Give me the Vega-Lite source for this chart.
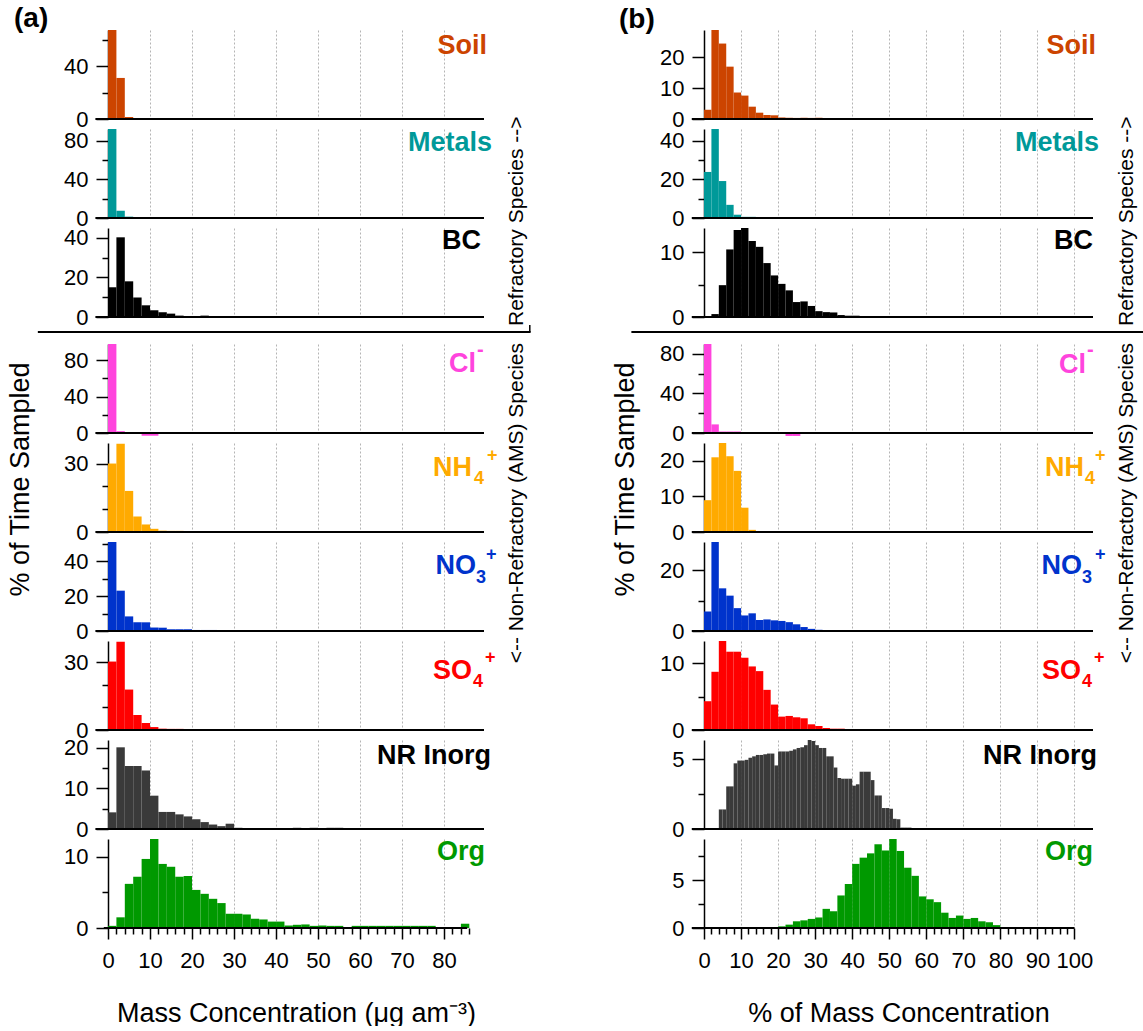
{
"$schema":"https://vega.github.io/schema/vega-lite/v6.json",
"padding":{"left":6,"top":4,"right":0,"bottom":0},
"background":"white",
"config":{
 "view":{"stroke":null},
 "font":"Liberation Sans",
 "axis":{"domainColor":"#000","domainWidth":1.5,"tickColor":"#000","tickWidth":1.5,"labelColor":"#000","labelFontSize":22,"labelFont":"Liberation Sans","labelOverlap":false,"labelFlush":false,"titleFont":"Liberation Sans","titleColor":"#000","titleFontWeight":"normal","titleFontSize":27,"grid":false},
 "axisX":{"gridDash":[2,2],"gridColor":"#b4b4b4","gridWidth":1},
 "axisY":{"labelPadding":8},
 "title":{"font":"Liberation Sans","color":"#000"},
 "text":{"font":"Liberation Sans"}
},
"datasets":{
 "aSoil":[{"x0":0,"x1":2,"v":67.2},{"x0":2,"x1":4,"v":31},{"x0":4,"x1":6,"v":1.5}],
 "aMetals":[{"x0":0,"x1":2,"v":92},{"x0":2,"x1":4,"v":7.5},{"x0":4,"x1":6,"v":1.4}],
 "aBC":[{"x0":0,"x1":2,"v":15},{"x0":2,"x1":4,"v":40.2},{"x0":4,"x1":6,"v":18},{"x0":6,"x1":8,"v":9.9},{"x0":8,"x1":10,"v":5.9},{"x0":10,"x1":12,"v":3.4},{"x0":12,"x1":14,"v":2.4},{"x0":14,"x1":16,"v":1.7},{"x0":16,"x1":18,"v":0.7},{"x0":18,"x1":20,"v":0.5},{"x0":20,"x1":22,"v":0.5},{"x0":22,"x1":24,"v":0.7},{"x0":24,"x1":26,"v":0.4}],
 "aCl":[{"x0":0,"x1":2,"v":97.8},{"x0":2,"x1":4,"v":2.0},{"x0":8,"x1":10,"v":-3},{"x0":10,"x1":12,"v":-3}],
 "aNH4":[{"x0":0,"x1":2,"v":30},{"x0":2,"x1":4,"v":38.7},{"x0":4,"x1":6,"v":18},{"x0":6,"x1":8,"v":6.8},{"x0":8,"x1":10,"v":3.3},{"x0":10,"x1":12,"v":1.4},{"x0":12,"x1":14,"v":0.6},{"x0":14,"x1":16,"v":0.5},{"x0":16,"x1":18,"v":0.5}],
 "aNO3":[{"x0":0,"x1":2,"v":51.2},{"x0":2,"x1":4,"v":23.2},{"x0":4,"x1":6,"v":8.4},{"x0":6,"x1":8,"v":5.1},{"x0":8,"x1":10,"v":5.0},{"x0":10,"x1":12,"v":2.0},{"x0":12,"x1":14,"v":1.9},{"x0":14,"x1":16,"v":1.0},{"x0":16,"x1":18,"v":1.0},{"x0":18,"x1":20,"v":1.0},{"x0":20,"x1":22,"v":0.6},{"x0":22,"x1":24,"v":0.6},{"x0":24,"x1":26,"v":0.6},{"x0":26,"x1":28,"v":0.4},{"x0":28,"x1":30,"v":0.4}],
 "aSO4":[{"x0":0,"x1":2,"v":30.3},{"x0":2,"x1":4,"v":39.1},{"x0":4,"x1":6,"v":17.9},{"x0":6,"x1":8,"v":6.6},{"x0":8,"x1":10,"v":3.1},{"x0":10,"x1":12,"v":1.3},{"x0":12,"x1":14,"v":0.6},{"x0":14,"x1":16,"v":0.5},{"x0":16,"x1":18,"v":0.5}],
 "aNR":[{"x0":0,"x1":2,"v":4.1},{"x0":2,"x1":4,"v":20.1},{"x0":4,"x1":6,"v":15.5},{"x0":6,"x1":8,"v":15.5},{"x0":8,"x1":10,"v":14.4},{"x0":10,"x1":12,"v":8.2},{"x0":12,"x1":14,"v":4.2},{"x0":14,"x1":16,"v":4.2},{"x0":16,"x1":18,"v":3.6},{"x0":18,"x1":20,"v":3.1},{"x0":20,"x1":22,"v":2.4},{"x0":22,"x1":24,"v":1.7},{"x0":24,"x1":26,"v":1.1},{"x0":26,"x1":28,"v":0.7},{"x0":28,"x1":30,"v":1.3},{"x0":30,"x1":32,"v":0.3},{"x0":32,"x1":34,"v":0.25},{"x0":34,"x1":36,"v":0.25},{"x0":36,"x1":38,"v":0.25},{"x0":38,"x1":40,"v":0.25},{"x0":40,"x1":42,"v":0.25},{"x0":42,"x1":44,"v":0.25},{"x0":44,"x1":46,"v":0.3},{"x0":46,"x1":48,"v":0.15},{"x0":48,"x1":50,"v":0.3},{"x0":50,"x1":52,"v":0.15},{"x0":52,"x1":54,"v":0.3},{"x0":54,"x1":56,"v":0.3}],
 "aOrg":[{"x0":0,"x1":2,"v":0.3},{"x0":2,"x1":4,"v":1.5},{"x0":4,"x1":6,"v":6.2},{"x0":6,"x1":8,"v":7.2},{"x0":8,"x1":10,"v":9.7},{"x0":10,"x1":12,"v":12.5},{"x0":12,"x1":14,"v":9.0},{"x0":14,"x1":16,"v":8.6},{"x0":16,"x1":18,"v":7.2},{"x0":18,"x1":20,"v":7.3},{"x0":20,"x1":22,"v":5.35},{"x0":22,"x1":24,"v":4.8},{"x0":24,"x1":26,"v":4.1},{"x0":26,"x1":28,"v":3.5},{"x0":28,"x1":30,"v":2.0},{"x0":30,"x1":32,"v":2.0},{"x0":32,"x1":34,"v":1.9},{"x0":34,"x1":36,"v":1.3},{"x0":36,"x1":38,"v":1.2},{"x0":38,"x1":40,"v":0.9},{"x0":40,"x1":42,"v":0.9},{"x0":42,"x1":44,"v":0.35},{"x0":44,"x1":46,"v":0.45},{"x0":46,"x1":48,"v":0.5},{"x0":48,"x1":50,"v":0.3},{"x0":50,"x1":52,"v":0.35},{"x0":52,"x1":54,"v":0.3},{"x0":54,"x1":56,"v":0.3},{"x0":58,"x1":60,"v":0.3},{"x0":60,"x1":62,"v":0.3},{"x0":62,"x1":64,"v":0.3},{"x0":64,"x1":66,"v":0.3},{"x0":66,"x1":68,"v":0.3},{"x0":68,"x1":70,"v":0.3},{"x0":70,"x1":72,"v":0.3},{"x0":72,"x1":74,"v":0.3},{"x0":74,"x1":76,"v":0.3},{"x0":76,"x1":78,"v":0.3},{"x0":84,"x1":86,"v":0.6}],
 "bSoil":[{"x0":0,"x1":2,"v":3.0},{"x0":2,"x1":4,"v":28.9},{"x0":4,"x1":6,"v":24.5},{"x0":6,"x1":8,"v":17},{"x0":8,"x1":10,"v":8.6},{"x0":10,"x1":12,"v":7.6},{"x0":12,"x1":14,"v":4.0},{"x0":14,"x1":16,"v":2.05},{"x0":16,"x1":18,"v":1.3},{"x0":18,"x1":20,"v":1.2},{"x0":20,"x1":22,"v":0.5},{"x0":22,"x1":24,"v":0.4},{"x0":24,"x1":26,"v":0.35},{"x0":26,"x1":28,"v":0.4},{"x0":28,"x1":30,"v":0.35},{"x0":30,"x1":32,"v":0.4}],
 "bMetals":[{"x0":0,"x1":2,"v":23.8},{"x0":2,"x1":4,"v":46},{"x0":4,"x1":6,"v":19.1},{"x0":6,"x1":8,"v":6.8},{"x0":8,"x1":10,"v":1.7},{"x0":10,"x1":12,"v":0.6},{"x0":12,"x1":14,"v":0.6}],
 "bBC":[{"x0":2,"x1":4,"v":0.45},{"x0":4,"x1":6,"v":4.9},{"x0":6,"x1":8,"v":10.4},{"x0":8,"x1":10,"v":13.4},{"x0":10,"x1":12,"v":13.7},{"x0":12,"x1":14,"v":11.7},{"x0":14,"x1":16,"v":10.8},{"x0":16,"x1":18,"v":8.3},{"x0":18,"x1":20,"v":6.4},{"x0":20,"x1":22,"v":5.1},{"x0":22,"x1":24,"v":4.1},{"x0":24,"x1":26,"v":2.3},{"x0":26,"x1":28,"v":2.4},{"x0":28,"x1":30,"v":1.7},{"x0":30,"x1":32,"v":0.9},{"x0":32,"x1":34,"v":0.75},{"x0":34,"x1":36,"v":0.7},{"x0":36,"x1":38,"v":0.3},{"x0":38,"x1":40,"v":0.2},{"x0":40,"x1":42,"v":0.2}],
 "bCl":[{"x0":0,"x1":2,"v":90},{"x0":2,"x1":4,"v":8.7},{"x0":4,"x1":6,"v":1.5},{"x0":6,"x1":8,"v":1.5},{"x0":8,"x1":10,"v":1.5},{"x0":22,"x1":24,"v":-3},{"x0":24,"x1":26,"v":-3}],
 "bNH4":[{"x0":0,"x1":2,"v":8.9},{"x0":2,"x1":4,"v":20.9},{"x0":4,"x1":6,"v":24.9},{"x0":6,"x1":8,"v":21.2},{"x0":8,"x1":10,"v":17.1},{"x0":10,"x1":12,"v":6.8},{"x0":12,"x1":14,"v":0.6}],
 "bNO3":[{"x0":0,"x1":2,"v":6.4},{"x0":2,"x1":4,"v":29.2},{"x0":4,"x1":6,"v":14},{"x0":6,"x1":8,"v":11.6},{"x0":8,"x1":10,"v":7.5},{"x0":10,"x1":12,"v":5.1},{"x0":12,"x1":14,"v":5.8},{"x0":14,"x1":16,"v":3.6},{"x0":16,"x1":18,"v":3.8},{"x0":18,"x1":20,"v":3.5},{"x0":20,"x1":22,"v":3.3},{"x0":22,"x1":24,"v":2.9},{"x0":24,"x1":26,"v":2.2},{"x0":26,"x1":28,"v":1.3},{"x0":28,"x1":30,"v":0.7},{"x0":30,"x1":32,"v":0.4}],
 "bSO4":[{"x0":0,"x1":2,"v":4.3},{"x0":2,"x1":4,"v":8.7},{"x0":4,"x1":6,"v":13.3},{"x0":6,"x1":8,"v":11.7},{"x0":8,"x1":10,"v":11.7},{"x0":10,"x1":12,"v":10.8},{"x0":12,"x1":14,"v":9.5},{"x0":14,"x1":16,"v":8.8},{"x0":16,"x1":18,"v":6.0},{"x0":18,"x1":20,"v":3.8},{"x0":20,"x1":22,"v":2.0},{"x0":22,"x1":24,"v":2.1},{"x0":24,"x1":26,"v":1.9},{"x0":26,"x1":28,"v":1.75},{"x0":28,"x1":30,"v":0.85},{"x0":30,"x1":32,"v":0.6},{"x0":32,"x1":34,"v":0.3},{"x0":34,"x1":36,"v":0.2},{"x0":36,"x1":38,"v":0.2}],
 "bNR":[{"x0":4,"x1":5,"v":1.4},{"x0":5,"x1":6,"v":1.4},{"x0":6,"x1":7,"v":3.05},{"x0":7,"x1":8,"v":3.05},{"x0":8,"x1":9,"v":4.7},{"x0":9,"x1":10,"v":4.9},{"x0":10,"x1":11,"v":4.9},{"x0":11,"x1":12,"v":4.95},{"x0":12,"x1":13,"v":5.1},{"x0":13,"x1":14,"v":5.2},{"x0":14,"x1":15,"v":5.3},{"x0":15,"x1":16,"v":5.3},{"x0":16,"x1":17,"v":5.35},{"x0":17,"x1":18,"v":5.4},{"x0":18,"x1":19,"v":5.4},{"x0":19,"x1":20,"v":4.55},{"x0":20,"x1":21,"v":5.55},{"x0":21,"x1":22,"v":5.55},{"x0":22,"x1":23,"v":5.55},{"x0":23,"x1":24,"v":5.6},{"x0":24,"x1":25,"v":5.7},{"x0":25,"x1":26,"v":5.8},{"x0":26,"x1":27,"v":5.85},{"x0":27,"x1":28,"v":6.0},{"x0":28,"x1":29,"v":6.37},{"x0":29,"x1":30,"v":6.3},{"x0":30,"x1":31,"v":6.0},{"x0":31,"x1":32,"v":5.8},{"x0":32,"x1":33,"v":5.8},{"x0":33,"x1":34,"v":5.2},{"x0":34,"x1":35,"v":5.2},{"x0":35,"x1":36,"v":4.4},{"x0":36,"x1":37,"v":3.65},{"x0":37,"x1":38,"v":3.6},{"x0":38,"x1":39,"v":3.6},{"x0":39,"x1":40,"v":3.6},{"x0":40,"x1":41,"v":3.1},{"x0":41,"x1":42,"v":3.2},{"x0":42,"x1":43,"v":4.1},{"x0":43,"x1":44,"v":4.1},{"x0":44,"x1":45,"v":4.1},{"x0":45,"x1":46,"v":3.5},{"x0":46,"x1":47,"v":2.4},{"x0":47,"x1":48,"v":2.4},{"x0":48,"x1":49,"v":1.5},{"x0":49,"x1":50,"v":1.5},{"x0":50,"x1":51,"v":1.45},{"x0":51,"x1":52,"v":0.73},{"x0":52,"x1":53,"v":0.7},{"x0":53,"x1":54,"v":0.1},{"x0":54,"x1":55,"v":0.1},{"x0":55,"x1":56,"v":0.1}],
 "bOrg":[{"x0":20,"x1":22,"v":0.17},{"x0":22,"x1":24,"v":0.35},{"x0":24,"x1":26,"v":0.7},{"x0":26,"x1":28,"v":0.8},{"x0":28,"x1":30,"v":0.95},{"x0":30,"x1":32,"v":1.1},{"x0":32,"x1":34,"v":2.0},{"x0":34,"x1":36,"v":1.75},{"x0":36,"x1":38,"v":3.4},{"x0":38,"x1":40,"v":4.6},{"x0":40,"x1":42,"v":6.7},{"x0":42,"x1":44,"v":7.35},{"x0":44,"x1":46,"v":7.8},{"x0":46,"x1":48,"v":8.75},{"x0":48,"x1":50,"v":8.1},{"x0":50,"x1":52,"v":9.3},{"x0":52,"x1":54,"v":8.05},{"x0":54,"x1":56,"v":6.3},{"x0":56,"x1":58,"v":5.45},{"x0":58,"x1":60,"v":3.3},{"x0":60,"x1":62,"v":3.0},{"x0":62,"x1":64,"v":2.7},{"x0":64,"x1":66,"v":1.6},{"x0":66,"x1":68,"v":1.05},{"x0":68,"x1":70,"v":1.3},{"x0":70,"x1":72,"v":0.95},{"x0":72,"x1":74,"v":1.05},{"x0":74,"x1":76,"v":0.7},{"x0":76,"x1":78,"v":0.6},{"x0":78,"x1":80,"v":0.3}]
},
"columns":2,
"spacing":{"row":10,"column":220},
"bounds":"flush",
"concat":[
{"width":376,"height":89,"resolve":{"axis":{"x":"independent","y":"independent"}},
 "title":{"text":"(a)","anchor":"start","frame":"group","fontSize":28,"fontWeight":"bold","dx":-94,"offset":-4},
 "layer":[
  {"data":{"name":"aSoil"},"mark":{"type":"bar","color":"#CC4400"},
   "encoding":{"x":{"field":"x0","type":"quantitative","scale":{"domain":[0,89.5],"nice":false,"zero":false},"axis":{"values":[10,20,30,40,50,60,70,80],"grid":true,"ticks":false,"labels":false,"domain":false,"title":null}},"x2":{"field":"x1"},
   "y":{"field":"v","type":"quantitative","scale":{"domain":[0,67.2],"nice":false},"axis":{"values":[0,20,40,60],"labelExpr":"datum.value % 40 === 0 ? datum.label : ''","tickSize":{"condition":{"test":"datum.value % 40 === 0","value":12},"value":6},"ticks":true,"domain":true,"labelOverlap":false,"title":null}},"y2":{"datum":0}}},
  {"data":{"values":[{}]},"mark":{"type":"rule","color":"#000","strokeWidth":2},"encoding":{"x":{"datum":-3,"type":"quantitative","axis":null},"x2":{"datum":89.5},"y":{"datum":0,"type":"quantitative","axis":null}}},
  {"data":{"values":[{"t":"Soil"}]},"mark":{"type":"text","align":"right","baseline":"alphabetic","fontSize":27,"fontWeight":"bold","color":"#CC4400","dx":3,"dy":24},"encoding":{"x":{"datum":89.5,"type":"quantitative","axis":null},"y":{"datum":67.2,"type":"quantitative","axis":null},"text":{"field":"t"}}}
 ]},
{"width":389,"height":89,"resolve":{"axis":{"x":"independent","y":"independent"}},
 "title":{"text":"(b)","anchor":"start","frame":"group","fontSize":28,"fontWeight":"bold","dx":-85,"offset":-4},
 "layer":[
  {"data":{"name":"bSoil"},"mark":{"type":"bar","color":"#CC4400"},
   "encoding":{"x":{"field":"x0","type":"quantitative","scale":{"domain":[0,105],"nice":false,"zero":false},"axis":{"values":[10,20,30,40,50,60,70,80,90,100],"grid":true,"ticks":false,"labels":false,"domain":false,"title":null}},"x2":{"field":"x1"},
   "y":{"field":"v","type":"quantitative","scale":{"domain":[0,28.9],"nice":false},"axis":{"values":[0,10,20],"tickSize":12,"ticks":true,"domain":true,"labelOverlap":false,"title":null}},"y2":{"datum":0}}},
  {"data":{"values":[{}]},"mark":{"type":"rule","color":"#000","strokeWidth":2},"encoding":{"x":{"datum":-3.3,"type":"quantitative","axis":null},"x2":{"datum":105},"y":{"datum":0,"type":"quantitative","axis":null}}},
  {"data":{"values":[{"t":"Soil"}]},"mark":{"type":"text","align":"right","baseline":"alphabetic","fontSize":27,"fontWeight":"bold","color":"#CC4400","dx":3,"dy":24},"encoding":{"x":{"datum":105,"type":"quantitative","axis":null},"y":{"datum":28.9,"type":"quantitative","axis":null},"text":{"field":"t"}}}
 ]},
{"width":376,"height":89,"resolve":{"axis":{"x":"independent","y":"independent"}},
 "layer":[
  {"data":{"name":"aMetals"},"mark":{"type":"bar","color":"#009999"},
   "encoding":{"x":{"field":"x0","type":"quantitative","scale":{"domain":[0,89.5],"nice":false,"zero":false},"axis":{"values":[10,20,30,40,50,60,70,80],"grid":true,"ticks":false,"labels":false,"domain":false,"title":null}},"x2":{"field":"x1"},
   "y":{"field":"v","type":"quantitative","scale":{"domain":[0,92],"nice":false},"axis":{"values":[0,20,40,60,80],"labelExpr":"datum.value % 40 === 0 ? datum.label : ''","tickSize":{"condition":{"test":"datum.value % 40 === 0","value":12},"value":6},"ticks":true,"domain":true,"labelOverlap":false,"title":null}},"y2":{"datum":0}}},
  {"data":{"values":[{}]},"mark":{"type":"rule","color":"#000","strokeWidth":2},"encoding":{"x":{"datum":-3,"type":"quantitative","axis":null},"x2":{"datum":89.5},"y":{"datum":0,"type":"quantitative","axis":null}}},
  {"data":{"values":[{"t":"Metals"}]},"mark":{"type":"text","align":"right","baseline":"alphabetic","fontSize":27,"fontWeight":"bold","color":"#009999","dx":8,"dy":22},"encoding":{"x":{"datum":89.5,"type":"quantitative","axis":null},"y":{"datum":92,"type":"quantitative","axis":null},"text":{"field":"t"}}}
 ]},
{"width":389,"height":89,"resolve":{"axis":{"x":"independent","y":"independent"}},
 "layer":[
  {"data":{"name":"bMetals"},"mark":{"type":"bar","color":"#009999"},
   "encoding":{"x":{"field":"x0","type":"quantitative","scale":{"domain":[0,105],"nice":false,"zero":false},"axis":{"values":[10,20,30,40,50,60,70,80,90,100],"grid":true,"ticks":false,"labels":false,"domain":false,"title":null}},"x2":{"field":"x1"},
   "y":{"field":"v","type":"quantitative","scale":{"domain":[0,46],"nice":false},"axis":{"values":[0,10,20,30,40],"labelExpr":"datum.value % 20 === 0 ? datum.label : ''","tickSize":{"condition":{"test":"datum.value % 20 === 0","value":12},"value":6},"ticks":true,"domain":true,"labelOverlap":false,"title":null}},"y2":{"datum":0}}},
  {"data":{"values":[{}]},"mark":{"type":"rule","color":"#000","strokeWidth":2},"encoding":{"x":{"datum":-3.3,"type":"quantitative","axis":null},"x2":{"datum":105},"y":{"datum":0,"type":"quantitative","axis":null}}},
  {"data":{"values":[{"t":"Metals"}]},"mark":{"type":"text","align":"right","baseline":"alphabetic","fontSize":27,"fontWeight":"bold","color":"#009999","dx":6,"dy":22},"encoding":{"x":{"datum":105,"type":"quantitative","axis":null},"y":{"datum":46,"type":"quantitative","axis":null},"text":{"field":"t"}}}
 ]},
{"width":376,"height":89,"resolve":{"axis":{"x":"independent","y":"independent"}},
 "layer":[
  {"data":{"name":"aBC"},"mark":{"type":"bar","color":"#000000"},
   "encoding":{"x":{"field":"x0","type":"quantitative","scale":{"domain":[0,89.5],"nice":false,"zero":false},"axis":{"values":[10,20,30,40,50,60,70,80],"grid":true,"ticks":false,"labels":false,"domain":false,"title":null}},"x2":{"field":"x1"},
   "y":{"field":"v","type":"quantitative","scale":{"domain":[0,44.9],"nice":false},"axis":{"values":[0,10,20,30,40],"labelExpr":"datum.value % 20 === 0 ? datum.label : ''","tickSize":{"condition":{"test":"datum.value % 20 === 0","value":12},"value":6},"ticks":true,"domain":true,"labelOverlap":false,"title":null}},"y2":{"datum":0}}},
  {"data":{"values":[{}]},"mark":{"type":"rule","color":"#000","strokeWidth":2},"encoding":{"x":{"datum":-3,"type":"quantitative","axis":null},"x2":{"datum":89.5},"y":{"datum":0,"type":"quantitative","axis":null}}},
  {"data":{"values":[{"t":"BC"}]},"mark":{"type":"text","align":"right","baseline":"alphabetic","fontSize":27,"fontWeight":"bold","color":"#000000","dx":-3,"dy":21},"encoding":{"x":{"datum":89.5,"type":"quantitative","axis":null},"y":{"datum":44.9,"type":"quantitative","axis":null},"text":{"field":"t"}}},
  {"data":{"values":[{"t":"Refractory Species -->"}]},"mark":{"type":"text","align":"left","baseline":"alphabetic","angle":270,"fontSize":21,"color":"#000","dx":-9},"encoding":{"x":{"datum":98.9,"type":"quantitative","axis":null},"y":{"datum":0,"type":"quantitative","axis":null},"text":{"field":"t"}}}
 ]},
{"width":389,"height":89,"resolve":{"axis":{"x":"independent","y":"independent"}},
 "layer":[
  {"data":{"name":"bBC"},"mark":{"type":"bar","color":"#000000"},
   "encoding":{"x":{"field":"x0","type":"quantitative","scale":{"domain":[0,105],"nice":false,"zero":false},"axis":{"values":[10,20,30,40,50,60,70,80,90,100],"grid":true,"ticks":false,"labels":false,"domain":false,"title":null}},"x2":{"field":"x1"},
   "y":{"field":"v","type":"quantitative","scale":{"domain":[0,13.7],"nice":false},"axis":{"values":[0,5,10],"labelExpr":"datum.value % 10 === 0 ? datum.label : ''","tickSize":{"condition":{"test":"datum.value % 10 === 0","value":12},"value":6},"ticks":true,"domain":true,"labelOverlap":false,"title":null}},"y2":{"datum":0}}},
  {"data":{"values":[{}]},"mark":{"type":"rule","color":"#000","strokeWidth":2},"encoding":{"x":{"datum":-3.3,"type":"quantitative","axis":null},"x2":{"datum":105},"y":{"datum":0,"type":"quantitative","axis":null}}},
  {"data":{"values":[{"t":"BC"}]},"mark":{"type":"text","align":"right","baseline":"alphabetic","fontSize":27,"fontWeight":"bold","color":"#000000","dx":0,"dy":21},"encoding":{"x":{"datum":105,"type":"quantitative","axis":null},"y":{"datum":13.7,"type":"quantitative","axis":null},"text":{"field":"t"}}},
  {"data":{"values":[{"t":"Refractory Species -->"}]},"mark":{"type":"text","align":"left","baseline":"alphabetic","angle":270,"fontSize":21,"color":"#000","dx":-9},"encoding":{"x":{"datum":115.7,"type":"quantitative","axis":null},"y":{"datum":0,"type":"quantitative","axis":null},"text":{"field":"t"}}}
 ]},
{"width":376,"height":7,
 "layer":[
  {"data":{"values":[{}]},"mark":{"type":"rule","color":"#000","strokeWidth":2},"encoding":{"x":{"datum":-16.7,"type":"quantitative","scale":{"domain":[0,89.5],"nice":false,"zero":false},"axis":null},"x2":{"datum":100.6},"y":{"datum":0.3,"type":"quantitative","scale":{"domain":[0,1],"nice":false},"axis":null}}},
  {"data":{"values":[{}]},"mark":{"type":"rule","color":"#000","strokeWidth":1.5},"encoding":{"x":{"datum":100.4,"type":"quantitative","axis":null},"y":{"datum":0.3,"type":"quantitative","axis":null},"y2":{"datum":1.3}}}
 ]},
{"width":389,"height":7,
 "layer":[
  {"data":{"values":[{}]},"mark":{"type":"rule","color":"#000","strokeWidth":2},"encoding":{"x":{"datum":-19.6,"type":"quantitative","scale":{"domain":[0,105],"nice":false,"zero":false},"axis":null},"x2":{"datum":119},"y":{"datum":0.3,"type":"quantitative","scale":{"domain":[0,1],"nice":false},"axis":null}}}
 ]},
{"width":376,"height":89,"resolve":{"axis":{"x":"independent","y":"independent"}},
 "layer":[
  {"data":{"name":"aCl"},"mark":{"type":"bar","color":"#FF44DD"},
   "encoding":{"x":{"field":"x0","type":"quantitative","scale":{"domain":[0,89.5],"nice":false,"zero":false},"axis":{"values":[10,20,30,40,50,60,70,80],"grid":true,"ticks":false,"labels":false,"domain":false,"title":null}},"x2":{"field":"x1"},
   "y":{"field":"v","type":"quantitative","scale":{"domain":[0,97.8],"nice":false},"axis":{"values":[0,20,40,60,80],"labelExpr":"datum.value % 40 === 0 ? datum.label : ''","tickSize":{"condition":{"test":"datum.value % 40 === 0","value":12},"value":6},"ticks":true,"domain":true,"labelOverlap":false,"title":null}},"y2":{"datum":0}}},
  {"data":{"values":[{}]},"mark":{"type":"rule","color":"#000","strokeWidth":2},"encoding":{"x":{"datum":-3,"type":"quantitative","axis":null},"x2":{"datum":89.5},"y":{"datum":0,"type":"quantitative","axis":null}}},
  {"data":{"values":[{"t":"Cl"}]},"mark":{"type":"text","align":"right","baseline":"alphabetic","fontSize":27,"fontWeight":"bold","color":"#FF44DD","dx":-8,"dy":28},"encoding":{"x":{"datum":89.5,"type":"quantitative","axis":null},"y":{"datum":97.8,"type":"quantitative","axis":null},"text":{"field":"t"}}},
  {"data":{"values":[{"t":"-"}]},"mark":{"type":"text","align":"left","baseline":"alphabetic","fontSize":20,"fontWeight":"bold","color":"#FF44DD","dx":-7,"dy":12},"encoding":{"x":{"datum":89.5,"type":"quantitative","axis":null},"y":{"datum":97.8,"type":"quantitative","axis":null},"text":{"field":"t"}}},
  {"data":{"values":[{"t":"<-- Non-Refractory (AMS) Species"}]},"mark":{"type":"text","align":"right","baseline":"alphabetic","angle":270,"fontSize":21,"color":"#000","dx":1},"encoding":{"x":{"datum":98.9,"type":"quantitative","axis":null},"y":{"datum":97.8,"type":"quantitative","axis":null},"text":{"field":"t"}}}
 ]},
{"width":389,"height":89,"resolve":{"axis":{"x":"independent","y":"independent"}},
 "layer":[
  {"data":{"name":"bCl"},"mark":{"type":"bar","color":"#FF44DD"},
   "encoding":{"x":{"field":"x0","type":"quantitative","scale":{"domain":[0,105],"nice":false,"zero":false},"axis":{"values":[10,20,30,40,50,60,70,80,90,100],"grid":true,"ticks":false,"labels":false,"domain":false,"title":null}},"x2":{"field":"x1"},
   "y":{"field":"v","type":"quantitative","scale":{"domain":[0,90],"nice":false},"axis":{"values":[0,20,40,60,80],"labelExpr":"datum.value % 40 === 0 ? datum.label : ''","tickSize":{"condition":{"test":"datum.value % 40 === 0","value":12},"value":6},"ticks":true,"domain":true,"labelOverlap":false,"title":null}},"y2":{"datum":0}}},
  {"data":{"values":[{}]},"mark":{"type":"rule","color":"#000","strokeWidth":2},"encoding":{"x":{"datum":-3.3,"type":"quantitative","axis":null},"x2":{"datum":105},"y":{"datum":0,"type":"quantitative","axis":null}}},
  {"data":{"values":[{"t":"Cl"}]},"mark":{"type":"text","align":"right","baseline":"alphabetic","fontSize":27,"fontWeight":"bold","color":"#FF44DD","dx":-7,"dy":29},"encoding":{"x":{"datum":105,"type":"quantitative","axis":null},"y":{"datum":90,"type":"quantitative","axis":null},"text":{"field":"t"}}},
  {"data":{"values":[{"t":"-"}]},"mark":{"type":"text","align":"left","baseline":"alphabetic","fontSize":20,"fontWeight":"bold","color":"#FF44DD","dx":-6,"dy":12},"encoding":{"x":{"datum":105,"type":"quantitative","axis":null},"y":{"datum":90,"type":"quantitative","axis":null},"text":{"field":"t"}}},
  {"data":{"values":[{"t":"<-- Non-Refractory (AMS) Species"}]},"mark":{"type":"text","align":"right","baseline":"alphabetic","angle":270,"fontSize":21,"color":"#000","dx":1},"encoding":{"x":{"datum":115.7,"type":"quantitative","axis":null},"y":{"datum":90,"type":"quantitative","axis":null},"text":{"field":"t"}}}
 ]},
{"width":376,"height":89,"resolve":{"axis":{"x":"independent","y":"independent"}},
 "title":{"text":"% of Time Sampled","orient":"left","anchor":"middle","frame":"group","fontSize":27,"fontWeight":"normal","offset":29,"dx":8},
 "layer":[
  {"data":{"name":"aNH4"},"mark":{"type":"bar","color":"#FFAA00"},
   "encoding":{"x":{"field":"x0","type":"quantitative","scale":{"domain":[0,89.5],"nice":false,"zero":false},"axis":{"values":[10,20,30,40,50,60,70,80],"grid":true,"ticks":false,"labels":false,"domain":false,"title":null}},"x2":{"field":"x1"},
   "y":{"field":"v","type":"quantitative","scale":{"domain":[0,39],"nice":false},"axis":{"values":[0,10,20,30],"labelExpr":"datum.value % 30 === 0 ? datum.label : ''","tickSize":{"condition":{"test":"datum.value % 30 === 0","value":12},"value":6},"ticks":true,"domain":true,"labelOverlap":false,"title":null}},"y2":{"datum":0}}},
  {"data":{"values":[{}]},"mark":{"type":"rule","color":"#000","strokeWidth":2},"encoding":{"x":{"datum":-3,"type":"quantitative","axis":null},"x2":{"datum":89.5},"y":{"datum":0,"type":"quantitative","axis":null}}},
  {"data":{"values":[{"t":"NH"}]},"mark":{"type":"text","align":"right","baseline":"alphabetic","fontSize":27,"fontWeight":"bold","color":"#FFAA00","dx":-12,"dy":33},"encoding":{"x":{"datum":89.5,"type":"quantitative","axis":null},"y":{"datum":39,"type":"quantitative","axis":null},"text":{"field":"t"}}},
  {"data":{"values":[{"t":"4"}]},"mark":{"type":"text","align":"left","baseline":"alphabetic","fontSize":18,"fontWeight":"bold","color":"#FFAA00","dx":-10,"dy":41},"encoding":{"x":{"datum":89.5,"type":"quantitative","axis":null},"y":{"datum":39,"type":"quantitative","axis":null},"text":{"field":"t"}}},
  {"data":{"values":[{"t":"+"}]},"mark":{"type":"text","align":"left","baseline":"alphabetic","fontSize":18,"fontWeight":"bold","color":"#FFAA00","dx":3,"dy":18},"encoding":{"x":{"datum":89.5,"type":"quantitative","axis":null},"y":{"datum":39,"type":"quantitative","axis":null},"text":{"field":"t"}}}
 ]},
{"width":389,"height":89,"resolve":{"axis":{"x":"independent","y":"independent"}},
 "title":{"text":"% of Time Sampled","orient":"left","anchor":"middle","frame":"group","fontSize":27,"fontWeight":"normal","offset":20,"dx":8},
 "layer":[
  {"data":{"name":"bNH4"},"mark":{"type":"bar","color":"#FFAA00"},
   "encoding":{"x":{"field":"x0","type":"quantitative","scale":{"domain":[0,105],"nice":false,"zero":false},"axis":{"values":[10,20,30,40,50,60,70,80,90,100],"grid":true,"ticks":false,"labels":false,"domain":false,"title":null}},"x2":{"field":"x1"},
   "y":{"field":"v","type":"quantitative","scale":{"domain":[0,24.9],"nice":false},"axis":{"values":[0,10,20],"tickSize":12,"ticks":true,"domain":true,"labelOverlap":false,"title":null}},"y2":{"datum":0}}},
  {"data":{"values":[{}]},"mark":{"type":"rule","color":"#000","strokeWidth":2},"encoding":{"x":{"datum":-3.3,"type":"quantitative","axis":null},"x2":{"datum":105},"y":{"datum":0,"type":"quantitative","axis":null}}},
  {"data":{"values":[{"t":"NH"}]},"mark":{"type":"text","align":"right","baseline":"alphabetic","fontSize":27,"fontWeight":"bold","color":"#FFAA00","dx":-9,"dy":33},"encoding":{"x":{"datum":105,"type":"quantitative","axis":null},"y":{"datum":24.9,"type":"quantitative","axis":null},"text":{"field":"t"}}},
  {"data":{"values":[{"t":"4"}]},"mark":{"type":"text","align":"left","baseline":"alphabetic","fontSize":18,"fontWeight":"bold","color":"#FFAA00","dx":-8,"dy":41},"encoding":{"x":{"datum":105,"type":"quantitative","axis":null},"y":{"datum":24.9,"type":"quantitative","axis":null},"text":{"field":"t"}}},
  {"data":{"values":[{"t":"+"}]},"mark":{"type":"text","align":"left","baseline":"alphabetic","fontSize":18,"fontWeight":"bold","color":"#FFAA00","dx":2,"dy":18},"encoding":{"x":{"datum":105,"type":"quantitative","axis":null},"y":{"datum":24.9,"type":"quantitative","axis":null},"text":{"field":"t"}}}
 ]},
{"width":376,"height":89,"resolve":{"axis":{"x":"independent","y":"independent"}},
 "layer":[
  {"data":{"name":"aNO3"},"mark":{"type":"bar","color":"#0033CC"},
   "encoding":{"x":{"field":"x0","type":"quantitative","scale":{"domain":[0,89.5],"nice":false,"zero":false},"axis":{"values":[10,20,30,40,50,60,70,80],"grid":true,"ticks":false,"labels":false,"domain":false,"title":null}},"x2":{"field":"x1"},
   "y":{"field":"v","type":"quantitative","scale":{"domain":[0,51.2],"nice":false},"axis":{"values":[0,10,20,30,40,50],"labelExpr":"datum.value % 20 === 0 ? datum.label : ''","tickSize":{"condition":{"test":"datum.value % 20 === 0","value":12},"value":6},"ticks":true,"domain":true,"labelOverlap":false,"title":null}},"y2":{"datum":0}}},
  {"data":{"values":[{}]},"mark":{"type":"rule","color":"#000","strokeWidth":2},"encoding":{"x":{"datum":-3,"type":"quantitative","axis":null},"x2":{"datum":89.5},"y":{"datum":0,"type":"quantitative","axis":null}}},
  {"data":{"values":[{"t":"NO"}]},"mark":{"type":"text","align":"right","baseline":"alphabetic","fontSize":27,"fontWeight":"bold","color":"#0033CC","dx":-8,"dy":32},"encoding":{"x":{"datum":89.5,"type":"quantitative","axis":null},"y":{"datum":51.2,"type":"quantitative","axis":null},"text":{"field":"t"}}},
  {"data":{"values":[{"t":"3"}]},"mark":{"type":"text","align":"left","baseline":"alphabetic","fontSize":18,"fontWeight":"bold","color":"#0033CC","dx":-8,"dy":41},"encoding":{"x":{"datum":89.5,"type":"quantitative","axis":null},"y":{"datum":51.2,"type":"quantitative","axis":null},"text":{"field":"t"}}},
  {"data":{"values":[{"t":"+"}]},"mark":{"type":"text","align":"left","baseline":"alphabetic","fontSize":18,"fontWeight":"bold","color":"#0033CC","dx":2,"dy":18},"encoding":{"x":{"datum":89.5,"type":"quantitative","axis":null},"y":{"datum":51.2,"type":"quantitative","axis":null},"text":{"field":"t"}}}
 ]},
{"width":389,"height":89,"resolve":{"axis":{"x":"independent","y":"independent"}},
 "layer":[
  {"data":{"name":"bNO3"},"mark":{"type":"bar","color":"#0033CC"},
   "encoding":{"x":{"field":"x0","type":"quantitative","scale":{"domain":[0,105],"nice":false,"zero":false},"axis":{"values":[10,20,30,40,50,60,70,80,90,100],"grid":true,"ticks":false,"labels":false,"domain":false,"title":null}},"x2":{"field":"x1"},
   "y":{"field":"v","type":"quantitative","scale":{"domain":[0,29.2],"nice":false},"axis":{"values":[0,10,20],"labelExpr":"datum.value % 20 === 0 ? datum.label : ''","tickSize":{"condition":{"test":"datum.value % 20 === 0","value":12},"value":6},"ticks":true,"domain":true,"labelOverlap":false,"title":null}},"y2":{"datum":0}}},
  {"data":{"values":[{}]},"mark":{"type":"rule","color":"#000","strokeWidth":2},"encoding":{"x":{"datum":-3.3,"type":"quantitative","axis":null},"x2":{"datum":105},"y":{"datum":0,"type":"quantitative","axis":null}}},
  {"data":{"values":[{"t":"NO"}]},"mark":{"type":"text","align":"right","baseline":"alphabetic","fontSize":27,"fontWeight":"bold","color":"#0033CC","dx":-11,"dy":32},"encoding":{"x":{"datum":105,"type":"quantitative","axis":null},"y":{"datum":29.2,"type":"quantitative","axis":null},"text":{"field":"t"}}},
  {"data":{"values":[{"t":"3"}]},"mark":{"type":"text","align":"left","baseline":"alphabetic","fontSize":18,"fontWeight":"bold","color":"#0033CC","dx":-11,"dy":41},"encoding":{"x":{"datum":105,"type":"quantitative","axis":null},"y":{"datum":29.2,"type":"quantitative","axis":null},"text":{"field":"t"}}},
  {"data":{"values":[{"t":"+"}]},"mark":{"type":"text","align":"left","baseline":"alphabetic","fontSize":18,"fontWeight":"bold","color":"#0033CC","dx":2,"dy":18},"encoding":{"x":{"datum":105,"type":"quantitative","axis":null},"y":{"datum":29.2,"type":"quantitative","axis":null},"text":{"field":"t"}}}
 ]},
{"width":376,"height":89,"resolve":{"axis":{"x":"independent","y":"independent"}},
 "layer":[
  {"data":{"name":"aSO4"},"mark":{"type":"bar","color":"#FF0000"},
   "encoding":{"x":{"field":"x0","type":"quantitative","scale":{"domain":[0,89.5],"nice":false,"zero":false},"axis":{"values":[10,20,30,40,50,60,70,80],"grid":true,"ticks":false,"labels":false,"domain":false,"title":null}},"x2":{"field":"x1"},
   "y":{"field":"v","type":"quantitative","scale":{"domain":[0,39.4],"nice":false},"axis":{"values":[0,10,20,30],"labelExpr":"datum.value % 30 === 0 ? datum.label : ''","tickSize":{"condition":{"test":"datum.value % 30 === 0","value":12},"value":6},"ticks":true,"domain":true,"labelOverlap":false,"title":null}},"y2":{"datum":0}}},
  {"data":{"values":[{}]},"mark":{"type":"rule","color":"#000","strokeWidth":2},"encoding":{"x":{"datum":-3,"type":"quantitative","axis":null},"x2":{"datum":89.5},"y":{"datum":0,"type":"quantitative","axis":null}}},
  {"data":{"values":[{"t":"SO"}]},"mark":{"type":"text","align":"right","baseline":"alphabetic","fontSize":27,"fontWeight":"bold","color":"#FF0000","dx":-12,"dy":38},"encoding":{"x":{"datum":89.5,"type":"quantitative","axis":null},"y":{"datum":39.4,"type":"quantitative","axis":null},"text":{"field":"t"}}},
  {"data":{"values":[{"t":"4"}]},"mark":{"type":"text","align":"left","baseline":"alphabetic","fontSize":18,"fontWeight":"bold","color":"#FF0000","dx":-11,"dy":46},"encoding":{"x":{"datum":89.5,"type":"quantitative","axis":null},"y":{"datum":39.4,"type":"quantitative","axis":null},"text":{"field":"t"}}},
  {"data":{"values":[{"t":"+"}]},"mark":{"type":"text","align":"left","baseline":"alphabetic","fontSize":18,"fontWeight":"bold","color":"#FF0000","dx":1,"dy":22},"encoding":{"x":{"datum":89.5,"type":"quantitative","axis":null},"y":{"datum":39.4,"type":"quantitative","axis":null},"text":{"field":"t"}}}
 ]},
{"width":389,"height":89,"resolve":{"axis":{"x":"independent","y":"independent"}},
 "layer":[
  {"data":{"name":"bSO4"},"mark":{"type":"bar","color":"#FF0000"},
   "encoding":{"x":{"field":"x0","type":"quantitative","scale":{"domain":[0,105],"nice":false,"zero":false},"axis":{"values":[10,20,30,40,50,60,70,80,90,100],"grid":true,"ticks":false,"labels":false,"domain":false,"title":null}},"x2":{"field":"x1"},
   "y":{"field":"v","type":"quantitative","scale":{"domain":[0,13.3],"nice":false},"axis":{"values":[0,5,10],"labelExpr":"datum.value % 10 === 0 ? datum.label : ''","tickSize":{"condition":{"test":"datum.value % 10 === 0","value":12},"value":6},"ticks":true,"domain":true,"labelOverlap":false,"title":null}},"y2":{"datum":0}}},
  {"data":{"values":[{}]},"mark":{"type":"rule","color":"#000","strokeWidth":2},"encoding":{"x":{"datum":-3.3,"type":"quantitative","axis":null},"x2":{"datum":105},"y":{"datum":0,"type":"quantitative","axis":null}}},
  {"data":{"values":[{"t":"SO"}]},"mark":{"type":"text","align":"right","baseline":"alphabetic","fontSize":27,"fontWeight":"bold","color":"#FF0000","dx":-12,"dy":38},"encoding":{"x":{"datum":105,"type":"quantitative","axis":null},"y":{"datum":13.3,"type":"quantitative","axis":null},"text":{"field":"t"}}},
  {"data":{"values":[{"t":"4"}]},"mark":{"type":"text","align":"left","baseline":"alphabetic","fontSize":18,"fontWeight":"bold","color":"#FF0000","dx":-11,"dy":46},"encoding":{"x":{"datum":105,"type":"quantitative","axis":null},"y":{"datum":13.3,"type":"quantitative","axis":null},"text":{"field":"t"}}},
  {"data":{"values":[{"t":"+"}]},"mark":{"type":"text","align":"left","baseline":"alphabetic","fontSize":18,"fontWeight":"bold","color":"#FF0000","dx":1,"dy":22},"encoding":{"x":{"datum":105,"type":"quantitative","axis":null},"y":{"datum":13.3,"type":"quantitative","axis":null},"text":{"field":"t"}}}
 ]},
{"width":376,"height":89,"resolve":{"axis":{"x":"independent","y":"independent"}},
 "layer":[
  {"data":{"name":"aNR"},"mark":{"type":"bar","color":"#3a3a3a"},
   "encoding":{"x":{"field":"x0","type":"quantitative","scale":{"domain":[0,89.5],"nice":false,"zero":false},"axis":{"values":[10,20,30,40,50,60,70,80],"grid":true,"ticks":false,"labels":false,"domain":false,"title":null}},"x2":{"field":"x1"},
   "y":{"field":"v","type":"quantitative","scale":{"domain":[0,21.9],"nice":false},"axis":{"values":[0,5,10,15,20],"labelExpr":"datum.value % 10 === 0 ? datum.label : ''","tickSize":{"condition":{"test":"datum.value % 10 === 0","value":12},"value":6},"ticks":true,"domain":true,"labelOverlap":false,"title":null}},"y2":{"datum":0}}},
  {"data":{"values":[{}]},"mark":{"type":"rule","color":"#000","strokeWidth":2},"encoding":{"x":{"datum":-3,"type":"quantitative","axis":null},"x2":{"datum":89.5},"y":{"datum":0,"type":"quantitative","axis":null}}},
  {"data":{"values":[{"t":"NR Inorg"}]},"mark":{"type":"text","align":"right","baseline":"alphabetic","fontSize":27,"fontWeight":"bold","color":"#000000","dx":7,"dy":24},"encoding":{"x":{"datum":89.5,"type":"quantitative","axis":null},"y":{"datum":21.9,"type":"quantitative","axis":null},"text":{"field":"t"}}}
 ]},
{"width":389,"height":89,"resolve":{"axis":{"x":"independent","y":"independent"}},
 "layer":[
  {"data":{"name":"bNR"},"mark":{"type":"bar","color":"#3a3a3a"},
   "encoding":{"x":{"field":"x0","type":"quantitative","scale":{"domain":[0,105],"nice":false,"zero":false},"axis":{"values":[10,20,30,40,50,60,70,80,90,100],"grid":true,"ticks":false,"labels":false,"domain":false,"title":null}},"x2":{"field":"x1"},
   "y":{"field":"v","type":"quantitative","scale":{"domain":[0,6.37],"nice":false},"axis":{"values":[0,2.5,5],"labelExpr":"datum.value % 5 === 0 ? datum.label : ''","tickSize":{"condition":{"test":"datum.value % 5 === 0","value":12},"value":6},"ticks":true,"domain":true,"labelOverlap":false,"title":null}},"y2":{"datum":0}}},
  {"data":{"values":[{}]},"mark":{"type":"rule","color":"#000","strokeWidth":2},"encoding":{"x":{"datum":-3.3,"type":"quantitative","axis":null},"x2":{"datum":105},"y":{"datum":0,"type":"quantitative","axis":null}}},
  {"data":{"values":[{"t":"NR Inorg"}]},"mark":{"type":"text","align":"right","baseline":"alphabetic","fontSize":27,"fontWeight":"bold","color":"#000000","dx":4,"dy":24},"encoding":{"x":{"datum":105,"type":"quantitative","axis":null},"y":{"datum":6.37,"type":"quantitative","axis":null},"text":{"field":"t"}}}
 ]},
{"width":376,"height":89,"resolve":{"axis":{"x":"independent","y":"independent"}},
 "layer":[
  {"data":{"name":"aOrg"},"mark":{"type":"bar","color":"#009900"},
   "encoding":{"x":{"field":"x0","type":"quantitative","scale":{"domain":[0,89.5],"nice":false,"zero":false},"axis":{"values":[0,2,4,6,8,10,12,14,16,18,20,22,24,26,28,30,32,34,36,38,40,42,44,46,48,50,52,54,56,58,60,62,64,66,68,70,72,74,76,78,80,82,84,86],"grid":true,"gridOpacity":{"condition":{"test":"datum.value % 10 === 0 && datum.value > 0","value":1},"value":0},"domain":false,"ticks":true,"labelOverlap":false,"tickSize":{"condition":{"test":"datum.value % 10 === 0","value":11},"value":6},"labelExpr":"datum.value % 10 === 0 ? datum.label : ''","labelPadding":11,"title":"Mass Concentration (μg am⁻³)","titlePadding":29}},"x2":{"field":"x1"},
   "y":{"field":"v","type":"quantitative","scale":{"domain":[0,12.5],"nice":false},"axis":{"values":[0,5,10],"labelExpr":"datum.value % 10 === 0 ? datum.label : ''","tickSize":{"condition":{"test":"datum.value % 10 === 0","value":12},"value":6},"ticks":true,"domain":true,"labelOverlap":false,"title":null}},"y2":{"datum":0}}},
  {"data":{"values":[{}]},"mark":{"type":"rule","color":"#000","strokeWidth":2},"encoding":{"x":{"datum":-1,"type":"quantitative","axis":null},"x2":{"datum":85.5},"y":{"datum":0,"type":"quantitative","axis":null}}},
  {"data":{"values":[{"t":"Org"}]},"mark":{"type":"text","align":"right","baseline":"alphabetic","fontSize":27,"fontWeight":"bold","color":"#009900","dx":1,"dy":21},"encoding":{"x":{"datum":89.5,"type":"quantitative","axis":null},"y":{"datum":12.5,"type":"quantitative","axis":null},"text":{"field":"t"}}}
 ]},
{"width":389,"height":89,"resolve":{"axis":{"x":"independent","y":"independent"}},
 "layer":[
  {"data":{"name":"bOrg"},"mark":{"type":"bar","color":"#009900"},
   "encoding":{"x":{"field":"x0","type":"quantitative","scale":{"domain":[0,105],"nice":false,"zero":false},"axis":{"values":[0,2,4,6,8,10,12,14,16,18,20,22,24,26,28,30,32,34,36,38,40,42,44,46,48,50,52,54,56,58,60,62,64,66,68,70,72,74,76,78,80,82,84,86,88,90,92,94,96,98,100],"grid":true,"gridOpacity":{"condition":{"test":"datum.value % 10 === 0 && datum.value > 0","value":1},"value":0},"domain":false,"ticks":true,"labelOverlap":false,"tickSize":{"condition":{"test":"datum.value % 10 === 0","value":11},"value":6},"labelExpr":"datum.value % 10 === 0 ? datum.label : ''","labelPadding":11,"title":"% of Mass Concentration","titlePadding":29}},"x2":{"field":"x1"},
   "y":{"field":"v","type":"quantitative","scale":{"domain":[0,9.3],"nice":false},"axis":{"values":[0,2.5,5,7.5],"labelExpr":"datum.value % 5 === 0 ? datum.label : ''","tickSize":{"condition":{"test":"datum.value % 5 === 0","value":12},"value":6},"ticks":true,"domain":true,"labelOverlap":false,"title":null}},"y2":{"datum":0}}},
  {"data":{"values":[{}]},"mark":{"type":"rule","color":"#000","strokeWidth":2},"encoding":{"x":{"datum":-3.3,"type":"quantitative","axis":null},"x2":{"datum":100},"y":{"datum":0,"type":"quantitative","axis":null}}},
  {"data":{"values":[{"t":"Org"}]},"mark":{"type":"text","align":"right","baseline":"alphabetic","fontSize":27,"fontWeight":"bold","color":"#009900","dx":0,"dy":21},"encoding":{"x":{"datum":105,"type":"quantitative","axis":null},"y":{"datum":9.3,"type":"quantitative","axis":null},"text":{"field":"t"}}}
 ]}
]
}
